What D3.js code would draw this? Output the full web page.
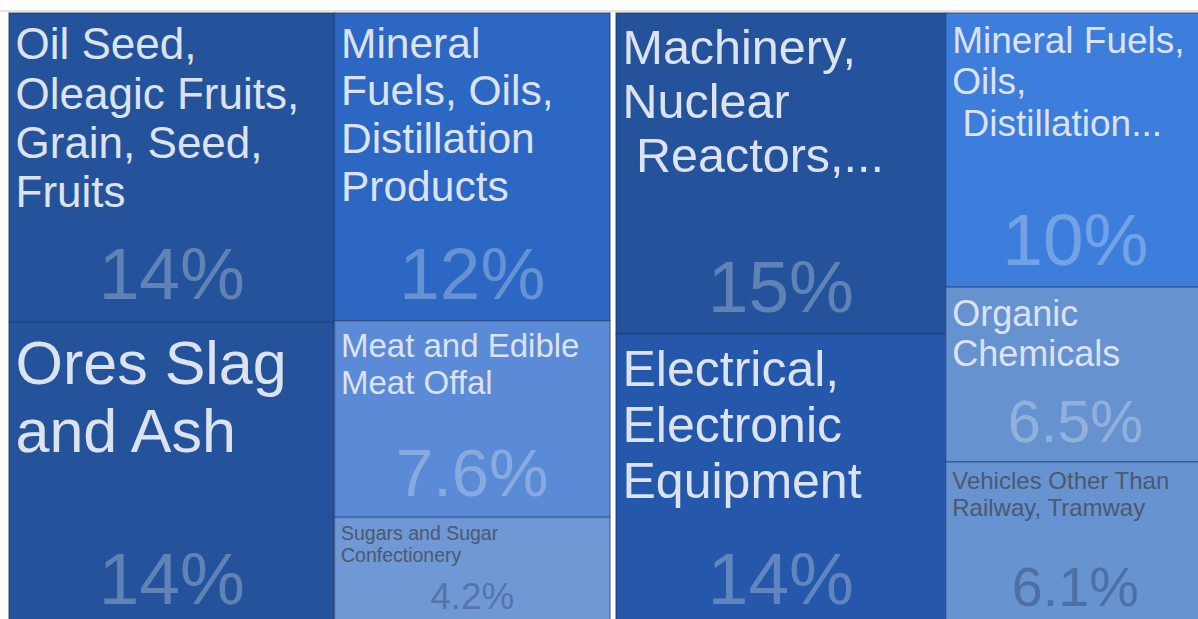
<!DOCTYPE html>
<html>
<head>
<meta charset="utf-8">
<script src="https://cdn.jsdelivr.net/npm/d3@7"></script>
<style>
  body { margin: 0; background: #fff; }
  svg { display: block; font-family: "Liberation Sans", Arial, sans-serif; }
</style>
</head>
<body>
<script>
// left treemap: shares of exports (%), column each item sits in
const leftNames = [
  "Oil Seed, Oleagic Fruits, Grain, Seed, Fruits",
  "Ores Slag and Ash",
  "Mineral Fuels, Oils, Distillation Products",
  "Meat and Edible Meat Offal",
  "Sugars and Sugar Confectionery"
];
const leftShares = [14.1, 13.9, 11.9, 7.6, 4.2];
const leftColumns = [0, 0, 1, 1, 1];

// right treemap
const rightNames = [
  "Machinery, Nuclear\n Reactors,...",
  "Electrical, Electronic Equipment",
  "Mineral Fuels, Oils,\n Distillation...",
  "Organic Chemicals",
  "Vehicles Other Than Railway, Tramway"
];
const rightShares = [15.2, 13.8, 10.2, 6.5, 6.1];
const rightColumns = [0, 0, 1, 1, 1];

// styling
const leftFills = ["#24539b", "#24539b", "#2c67c4", "#5b8ad6", "#6f98d4"];
const rightFills = ["#24539b", "#2557aa", "#3d7edd", "#6792d0", "#6893d1"];
const leftLabelSize = [44, 61, 42.5, 33, 19.5];
const rightLabelSize = [48.5, 50, 37, 36, 24];

const W = 1198, H = 619;
const fmt = d3.format(".2r");

const svg = d3.select("body").append("svg")
  .attr("width", W)
  .attr("height", H);

// thin grey rule along the top
svg.append("rect")
  .attr("x", 0).attr("y", 10)
  .attr("width", W).attr("height", 2)
  .attr("fill", "#e4e4e4");

const ctx = document.createElement("canvas").getContext("2d");
function measure(t, size) {
  ctx.font = size + 'px "Liberation Sans", Arial, sans-serif';
  return ctx.measureText(t).width;
}

function wrapLines(text, size, maxW) {
  const out = [];
  text.split("\n").forEach(seg => {
    const lead = seg.match(/^\s*/)[0];
    const words = seg.trim().split(/\s+/);
    let line = lead + words[0];
    for (let i = 1; i < words.length; i++) {
      const t = line + " " + words[i];
      if (measure(t, size) > maxW) {
        out.push(line);
        line = words[i];
      } else {
        line = t;
      }
    }
    out.push(line);
  });
  return out;
}

function drawTreemap(x, y, w, h, names, shares, columns, fills, labelSizes) {
  const items = names.map((n, i) => ({name: n, value: shares[i], col: columns[i],
    fill: fills[i], labelSize: labelSizes[i]}));
  const cols = d3.groups(items, d => d.col).map(([k, v]) => ({name: "col" + k, children: v}));

  const root = d3.hierarchy({name: "root", children: cols})
    .sum(d => d.value || 0);

  d3.treemap()
    .tile(d3.treemapSliceDice)
    .size([w, h])
    .round(false)(root);

  const g = svg.append("g").attr("transform", `translate(${x},${y})`);

  g.append("rect")
    .attr("x", -0.5).attr("y", -0.5)
    .attr("width", w + 1).attr("height", h + 1)
    .attr("fill", "none")
    .attr("stroke", "#d6dbe3");

  const cell = g.selectAll("g.cell")
    .data(root.leaves())
    .enter()
    .append("g")
    .attr("class", "cell");

  cell.append("rect")
    .attr("x", d => d.x0)
    .attr("y", d => d.y0)
    .attr("width", d => d.x1 - d.x0)
    .attr("height", d => d.y1 - d.y0)
    .attr("fill", d => d.data.fill)
    .attr("stroke", "rgba(10,30,80,0.35)")
    .attr("stroke-width", 1.5);

  cell.each(function (d) {
    const c = d3.select(this);
    const cw = d.x1 - d.x0, ch = d.y1 - d.y0;
    const fs = d.data.labelSize;
    const small = fs < 30;
    const lines = wrapLines(d.data.name, fs, cw - 16);

    const label = c.append("text")
      .attr("font-size", fs)
      .attr("fill", small ? "#4b596f" : "#dce3ef")
      .style("white-space", "pre");
    label.selectAll("tspan")
      .data(lines)
      .enter()
      .append("tspan")
      .attr("x", d.x0 + 6.5)
      .attr("y", (l, i) => d.y0 + 0.95 * fs + 4.5 + i * fs * 1.12)
      .text(l => l);

    const vs = Math.min(73, 0.34 * Math.min(cw, ch));
    c.append("text")
      .attr("x", (d.x0 + d.x1) / 2)
      .attr("y", d.y1 - (12 + 0.14 * vs))
      .attr("text-anchor", "middle")
      .attr("font-size", vs)
      .attr("fill", small ? "rgba(20,30,60,0.3)" : "rgba(255,255,255,0.28)")
      .text(fmt(d.data.value) + "%");
  });
}

drawTreemap(9, 13, 601, 613, leftNames, leftShares, leftColumns, leftFills, leftLabelSize);
drawTreemap(616, 13, 589, 613, rightNames, rightShares, rightColumns, rightFills, rightLabelSize);
</script>
</body>
</html>
